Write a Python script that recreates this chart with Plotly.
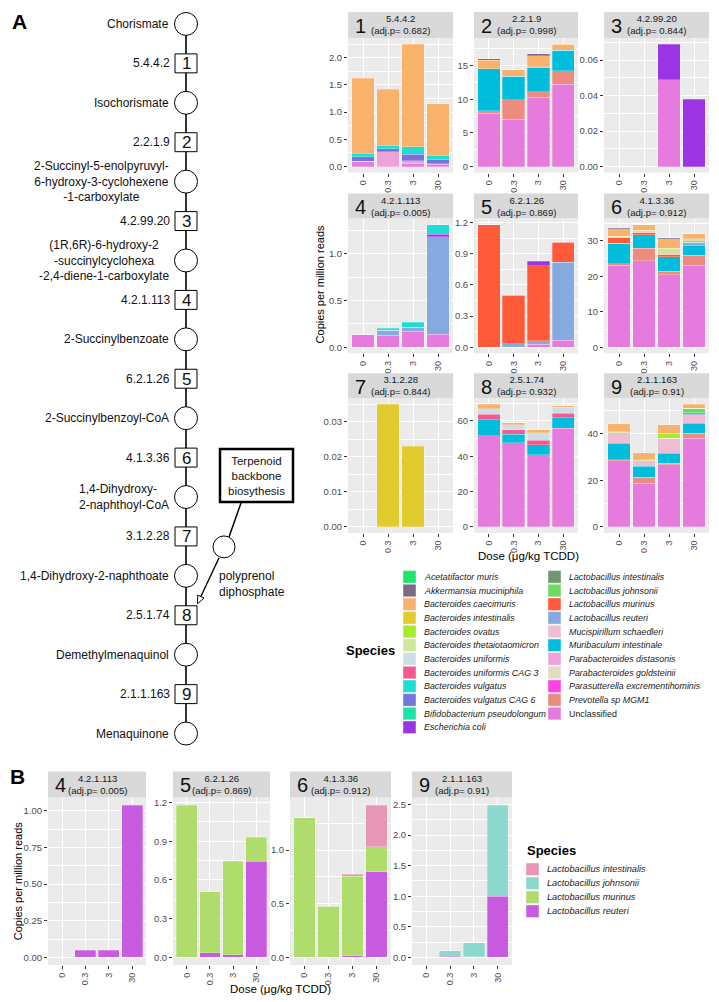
import math
import plotly.graph_objects as go

W, H = 719, 1002
FONT = "Liberation Sans, Arial, sans-serif"

doses = ["0", "0.3", "3", "30"]

species = [
    "Acetatifactor muris", "Akkermansia muciniphila", "Bacteroides caecimuris",
    "Bacteroides intestinalis", "Bacteroides ovatus", "Bacteroides thetaiotaomicron",
    "Bacteroides uniformis", "Bacteroides uniformis CAG 3", "Bacteroides vulgatus",
    "Bacteroides vulgatus CAG 6", "Bifidobacterium pseudolongum", "Escherichia coli",
    "Lactobacillus intestinalis", "Lactobacillus johnsonii", "Lactobacillus murinus",
    "Lactobacillus reuteri", "Mucispirillum schaedleri", "Muribaculum intestinale",
    "Parabacteroides distasonis", "Parabacteroides goldsteinii",
    "Parasutterella excrementihominis", "Prevotella sp MGM1", "Unclassified",
]
species_colors = [
    "#1CE66A", "#7B6A86", "#F8B26C", "#E2CB2F", "#A9EB2C", "#D3E49C",
    "#CADFE8", "#F6588F", "#1EDDD6", "#7475DB", "#1EE1A6", "#9B35E3",
    "#6F9672", "#6FD862", "#FF5B3B", "#86A9E0", "#F1BDD5", "#00BDDC",
    "#EFA1DC", "#E1DBC0", "#FF42E2", "#EC8B80", "#E57BDC",
]

species_b = ["Lactobacillus intestinalis", "Lactobacillus johnsonii",
             "Lactobacillus murinus", "Lactobacillus reuteri"]
colors_b = ["#E796B6", "#8DD8CC", "#B0DC6B", "#C85BDF"]

# ---- Panel A data (copies per million reads) ----
p1 = {
    "Unclassified": [0.10, 0.00, 0.05, 0.03],
    "Parabacteroides distasonis": [0.00, 0.27, 0.06, 0.02],
    "Bacteroides vulgatus CAG 6": [0.08, 0.06, 0.12, 0.07],
    "Bacteroides vulgatus": [0.06, 0.05, 0.13, 0.08],
    "Bacteroides caecimuris": [1.38, 1.04, 1.89, 0.95],
}
p2 = {
    "Unclassified": [7.9, 7.0, 10.3, 12.2],
    "Prevotella sp MGM1": [0.4, 2.95, 0.8, 2.0],
    "Muribaculum intestinale": [6.2, 3.5, 3.6, 3.1],
    "Bacteroides ovatus": [0.0, 0.0, 0.15, 0.0],
    "Bacteroides caecimuris": [1.3, 0.95, 1.6, 0.9],
    "Akkermansia muciniphila": [0.2, 0.0, 0.3, 0.0],
}
p3 = {
    "Unclassified": [0.0, 0.0, 0.049, 0.0],
    "Escherichia coli": [0.0, 0.0, 0.020, 0.038],
}
p4 = {
    "Unclassified": [0.14, 0.13, 0.17, 0.14],
    "Lactobacillus reuteri": [0.0, 0.05, 0.045, 1.04],
    "Escherichia coli": [0.0, 0.0, 0.0, 0.03],
    "Bacteroides vulgatus": [0.0, 0.025, 0.05, 0.10],
}
p5 = {
    "Unclassified": [0.0, 0.0, 0.03, 0.067],
    "Lactobacillus reuteri": [0.0, 0.035, 0.03, 0.753],
    "Lactobacillus murinus": [1.18, 0.465, 0.725, 0.19],
    "Escherichia coli": [0.0, 0.0, 0.045, 0.0],
}
p6 = {
    "Unclassified": [23.2, 24.4, 20.4, 23.2],
    "Prevotella sp MGM1": [0.3, 3.5, 1.0, 2.7],
    "Muribaculum intestinale": [5.9, 3.8, 4.2, 2.9],
    "Lactobacillus reuteri": [0.0, 0.0, 0.0, 0.8],
    "Lactobacillus murinus": [1.6, 0.7, 0.7, 0.0],
    "Lactobacillus intestinalis": [0.0, 0.0, 0.0, 0.3],
    "Bacteroides thetaiotaomicron": [0.3, 0.6, 1.6, 0.7],
    "Bacteroides caecimuris": [2.2, 1.6, 2.7, 1.5],
    "Akkermansia muciniphila": [0.3, 0.0, 0.3, 0.0],
}
p7 = {
    "Bacteroides intestinalis": [0.0, 0.035, 0.023, 0.0],
}
p8 = {
    "Unclassified": [51.5, 47.7, 40.8, 55.8],
    "Muribaculum intestinale": [9.3, 4.8, 5.6, 5.9],
    "Bacteroides uniformis CAG 3": [3.0, 2.4, 2.7, 2.6],
    "Bacteroides uniformis": [3.2, 2.8, 4.1, 3.4],
    "Bacteroides caecimuris": [2.4, 1.2, 1.7, 1.0],
}
p9 = {
    "Unclassified": [28.5, 18.85, 26.6, 38.1],
    "Prevotella sp MGM1": [0.4, 2.45, 0.7, 2.2],
    "Muribaculum intestinale": [7.1, 4.7, 4.4, 4.3],
    "Mucispirillum schaedleri": [4.4, 2.5, 6.1, 3.7],
    "Lactobacillus reuteri": [0.0, 0.0, 0.0, 0.8],
    "Lactobacillus johnsonii": [0.0, 0.0, 0.0, 2.0],
    "Bacteroides ovatus": [0.0, 0.0, 2.2, 0.0],
    "Bacteroides thetaiotaomicron": [0.4, 0.4, 0.3, 0.0],
    "Bacteroides caecimuris": [3.5, 3.0, 3.7, 1.6],
}

# ---- Panel B data ----
b4 = {"Lactobacillus reuteri": [0.0, 0.05, 0.05, 1.04]}
b5 = {
    "Lactobacillus reuteri": [0.0, 0.035, 0.02, 0.745],
    "Lactobacillus murinus": [1.18, 0.475, 0.725, 0.185],
}
b6 = {
    "Lactobacillus reuteri": [0.0, 0.0, 0.015, 0.80],
    "Lactobacillus murinus": [1.30, 0.475, 0.74, 0.23],
    "Lactobacillus intestinalis": [0.0, 0.0, 0.02, 0.39],
}
b9 = {
    "Lactobacillus reuteri": [0.0, 0.02, 0.01, 1.0],
    "Lactobacillus johnsonii": [0.0, 0.09, 0.23, 1.49],
}

# strip labels: (number, EC, adj.p)
strips_a = [("1", "5.4.4.2", "0.682"), ("2", "2.2.1.9", "0.998"), ("3", "4.2.99.20", "0.844"),
            ("4", "4.2.1.113", "0.005"), ("5", "6.2.1.26", "0.869"), ("6", "4.1.3.36", "0.912"),
            ("7", "3.1.2.28", "0.844"), ("8", "2.5.1.74", "0.932"), ("9", "2.1.1.163", "0.91")]
data_a = [p1, p2, p3, p4, p5, p6, p7, p8, p9]
ticks_a = [(0.5, ".1f"), (5, "d"), (0.02, ".2f"), (0.5, ".1f"), (0.3, ".1f"),
           (10, "d"), (0.01, ".2f"), (20, "d"), (20, "d")]

strips_b = [("4", "4.2.1.113", "0.005"), ("5", "6.2.1.26", "0.869"),
            ("6", "4.1.3.36", "0.912"), ("9", "2.1.1.163", "0.91")]
data_b = [b4, b5, b6, b9]
ticks_b = [(0.25, ".2f"), (0.3, ".1f"), (0.5, ".1f"), (0.5, ".1f")]

# pathway
compounds = [
    "Chorismate", "Isochorismate",
    "2-Succinyl-5-enolpyruvyl-<br>6-hydroxy-3-cyclohexene<br>-1-carboxylate",
    "(1R,6R)-6-hydroxy-2<br>-succinylcyclohexa<br>-2,4-diene-1-carboxylate",
    "2-Succinylbenzoate", "2-Succinylbenzoyl-CoA",
    "1,4-Dihydroxy-<br>2-naphthoyl-CoA", "1,4-Dihydroxy-2-naphthoate",
    "Demethylmenaquinol", "Menaquinone",
]
compound_align = ["right", "right", "center", "center", "right", "right",
                  "left", "right", "right", "right"]
enzymes = ["5.4.4.2", "2.2.1.9", "4.2.99.20", "4.2.1.113", "6.2.1.26",
           "4.1.3.36", "3.1.2.28", "2.5.1.74", "2.1.1.163"]


def fx(x):
    return x / W


def fy(y):
    return 1 - y / H


fig = go.Figure()
layout = {}
shapes = []
annotations = []


def ann(x, y, text, size=12, xanchor="center", yanchor="middle", align="center",
        color="#000000", textangle=0):
    annotations.append(dict(
        x=fx(x), y=fy(y), xref="paper", yref="paper", text=text, showarrow=False,
        xanchor=xanchor, yanchor=yanchor, align=align, textangle=textangle,
        font=dict(family=FONT, size=size, color=color)))


def add_panel(k, box, strip, data, order, cmap, tick):
    x0, x1, st, pt, pb = box
    num, ec, pv = strip
    dtick, fmt = tick
    xn = "x" if k == 1 else f"x{k}"
    yn = "y" if k == 1 else f"y{k}"
    for sp in order:
        if sp in data and any(v > 0 for v in data[sp]):
            fig.add_trace(go.Bar(
                x=doses, y=data[sp], xaxis=xn, yaxis=yn, name=sp,
                marker=dict(color=cmap[sp], line=dict(color="rgba(255,255,255,0.5)", width=0.5)),
                width=0.9, showlegend=False, hovertemplate=sp + ": %{y}<extra></extra>"))
    totals = [sum(data[s][i] for s in data) for i in range(4)]
    m = max(totals)
    suffix = "" if k == 1 else str(k)
    tickfont = dict(family=FONT, size=9, color="#4D4D4D")
    layout["xaxis" + suffix] = dict(
        domain=[fx(x0), fx(x1)], anchor=yn, type="category",
        categoryorder="array", categoryarray=doses, range=[-0.6, 3.6],
        showgrid=True, gridcolor="white", gridwidth=1, zeroline=False,
        ticks="outside", ticklen=3, tickwidth=0.8, tickcolor="#333333",
        tickangle=-90, tickfont=tickfont, showline=False)
    layout["yaxis" + suffix] = dict(
        domain=[fy(pb), fy(pt)], anchor=xn, range=[-0.05 * m, 1.05 * m],
        tick0=0, dtick=dtick, tickformat=fmt,
        showgrid=True, gridcolor="white", gridwidth=1, zeroline=False,
        ticks="outside", ticklen=3, tickwidth=0.8, tickcolor="#333333",
        tickfont=dict(family=FONT, size=9.5, color="#4D4D4D"), showline=False,
        minor=dict(showgrid=True, gridcolor="white", gridwidth=0.5, dtick=dtick / 2, tick0=0))
    # strip
    shapes.append(dict(type="rect", xref="paper", yref="paper",
                       x0=fx(x0), x1=fx(x1), y0=fy(pt), y1=fy(st),
                       fillcolor="#D9D9D9", line=dict(width=0), layer="below"))
    cy = (st + pt) / 2
    ann(x0 + 5, cy + 1, num, size=20, xanchor="left", color="#111111")
    ann((x0 + x1) / 2, cy, f"{ec}<br>(adj.p= {pv})", size=9.6, color="#1A1A1A")


cmap_a = dict(zip(species, species_colors))
cmap_b = dict(zip(species_b, colors_b))
order_a = list(reversed(species))
order_b = list(reversed(species_b))

cols_a = [(348, 453), (474, 578), (604, 709)]
rows_a = [(10, 36, 171), (192, 217, 352), (372, 397, 532)]
k = 1
for i in range(9):
    c = cols_a[i % 3]
    r = rows_a[i // 3]
    add_panel(k, (c[0], c[1], r[0], r[1], r[2]), strips_a[i], data_a[i], order_a, cmap_a, ticks_a[i])
    k += 1

cols_b = [(48, 146), (173, 270), (290, 391), (412, 512)]
row_b = (771, 797, 965)
for i in range(4):
    c = cols_b[i]
    add_panel(k, (c[0], c[1], row_b[0], row_b[1], row_b[2]), strips_b[i], data_b[i], order_b, cmap_b, ticks_b[i])
    k += 1

# axis titles
ann(320, 283, "Copies per million reads", size=11, textangle=-90)
ann(528, 555, "Dose (μg/kg TCDD)", size=11.5)
ann(18, 881, "Copies per million reads", size=11, textangle=-90)
ann(280, 989, "Dose (μg/kg TCDD)", size=11.5)

# panel letters
ann(19, 20, "<b>A</b>", size=21)
ann(17, 776, "<b>B</b>", size=21)

# legend A
ann(370, 650, "<b>Species</b>", size=13)
for j, sp in enumerate(species):
    col = 0 if j < 12 else 1
    row = j if j < 12 else j - 12
    kx = 403 if col == 0 else 548
    ky = 576 + row * 13.7
    shapes.append(dict(type="rect", xref="paper", yref="paper",
                       x0=fx(kx), x1=fx(kx + 13), y0=fy(ky + 6.3), y1=fy(ky - 6.3),
                       fillcolor=cmap_a[sp], line=dict(width=0.6, color="rgba(255,255,255,0.7)")))
    label = sp if sp == "Unclassified" else f"<i>{sp}</i>"
    ann(kx + 19, ky, label, size=8.9, xanchor="left", color="#1A1A1A")

# legend B
ann(525, 850, "<b>Species</b>", size=13, xanchor="left")
for j, sp in enumerate(species_b):
    ky = 869 + j * 14
    shapes.append(dict(type="rect", xref="paper", yref="paper",
                       x0=fx(526), x1=fx(539), y0=fy(ky + 6.3), y1=fy(ky - 6.3),
                       fillcolor=cmap_b[sp], line=dict(width=0.6, color="rgba(255,255,255,0.7)")))
    ann(545, ky, f"<i>{sp}</i>", size=9.2, xanchor="left", color="#1A1A1A")

# pathway diagram
LX = 186
Y0, STEP = 22, 39.5
shapes.append(dict(type="line", xref="paper", yref="paper",
                   x0=fx(LX), x1=fx(LX), y0=fy(Y0), y1=fy(Y0 + 18 * STEP),
                   line=dict(color="black", width=1.6)))
for i, name in enumerate(compounds):
    y = Y0 + 2 * i * STEP
    shapes.append(dict(type="circle", xref="paper", yref="paper",
                       x0=fx(LX - 11.5), x1=fx(LX + 11.5), y0=fy(y + 11.5), y1=fy(y - 11.5),
                       fillcolor="white", line=dict(color="black", width=1)))
    ann(171, y, name, size=12, xanchor="right", align=compound_align[i], color="#111111")
for i, ec in enumerate(enzymes):
    y = Y0 + (2 * i + 1) * STEP
    shapes.append(dict(type="rect", xref="paper", yref="paper",
                       x0=fx(LX - 11), x1=fx(LX + 11), y0=fy(y + 9.5), y1=fy(y - 9.5),
                       fillcolor="white", line=dict(color="black", width=1)))
    ann(LX, y + 0.5, str(i + 1), size=17, color="#111111")
    ann(172, y, ec, size=12, xanchor="right", color="#111111")

# terpenoid branch
shapes.append(dict(type="rect", xref="paper", yref="paper",
                   x0=fx(220), x1=fx(293), y0=fy(501), y1=fy(448),
                   fillcolor="white", line=dict(color="black", width=2.5)))
ann(256.5, 474.5, "Terpenoid<br>backbone<br>biosythesis", size=11.5, color="#111111")
shapes.append(dict(type="line", xref="paper", yref="paper",
                   x0=fx(241), x1=fx(229), y0=fy(502), y1=fy(536),
                   line=dict(color="black", width=1.5)))
shapes.append(dict(type="circle", xref="paper", yref="paper",
                   x0=fx(213), x1=fx(235), y0=fy(557), y1=fy(535),
                   fillcolor="white", line=dict(color="black", width=1)))
ann(217, 583, "polyprenol<br>diphosphate", size=12, xanchor="left", align="left", color="#111111")
# arrow
sx, sy, tx, ty = 219, 557, 197.5, 603
dx, dy = tx - sx, ty - sy
L = math.hypot(dx, dy)
ux, uy = dx / L, dy / L
bx, by = tx - ux * 8, ty - uy * 8
px_, py_ = -uy, ux
shapes.append(dict(type="line", xref="paper", yref="paper",
                   x0=fx(sx), x1=fx(bx), y0=fy(sy), y1=fy(by),
                   line=dict(color="black", width=1.3)))
pts = [(tx, ty), (bx + px_ * 3.5, by + py_ * 3.5), (bx - px_ * 3.5, by - py_ * 3.5)]
path = "M " + " L ".join(f"{fx(a):.5f},{fy(b):.5f}" for a, b in pts) + " Z"
shapes.append(dict(type="path", xref="paper", yref="paper", path=path,
                   fillcolor="white", line=dict(color="black", width=1)))

layout.update(dict(
    width=W, height=H, margin=dict(l=0, r=0, t=0, b=0),
    paper_bgcolor="white", plot_bgcolor="#EBEBEB",
    barmode="stack", bargap=0.1, showlegend=False,
    font=dict(family=FONT, color="#222222"),
    shapes=shapes, annotations=annotations,
))
fig.update_layout(**layout)
fig.write_html(
    "out.html",
    config={"displayModeBar": False},
    post_script="document.body.style.margin='0';document.body.style.padding='0';"
                "document.body.style.overflow='hidden';",
)
